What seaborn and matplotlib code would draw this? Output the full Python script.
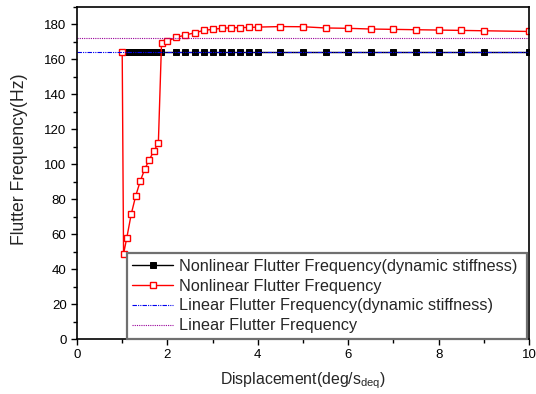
import matplotlib
matplotlib.use("Agg")
import matplotlib.pyplot as plt
import seaborn as sns
import numpy as np
from matplotlib.ticker import MultipleLocator

# ---- data ----
nl_dyn_x = [1.0, 1.05, 1.1, 1.15, 1.2, 1.25, 1.3, 1.35, 1.4, 1.45, 1.5, 1.55, 1.6,
            1.65, 1.7, 1.75, 1.8, 1.85, 2.2, 2.4, 2.6, 2.8, 3.0, 3.2, 3.4, 3.6, 3.8,
            4.0, 4.5, 5.0, 5.5, 6.0, 6.5, 7.0, 7.5, 8.0, 8.5, 9.0, 10.0]
nl_dyn_y = [164.5] * len(nl_dyn_x)

nl_x = [1.0, 1.03, 1.1, 1.2, 1.3, 1.4, 1.5, 1.6, 1.7, 1.8, 1.87, 2.0, 2.2, 2.4, 2.6,
        2.8, 3.0, 3.2, 3.4, 3.6, 3.8, 4.0, 4.5, 5.0, 5.5, 6.0, 6.5, 7.0, 7.5, 8.0,
        8.5, 9.0, 10.0]
nl_y = [164.5, 48.7, 57.7, 71.5, 82.0, 90.4, 97.3, 102.6, 107.6, 112.2, 169.5, 170.5,
        172.6, 174.0, 175.2, 176.6, 177.2, 177.8, 178.1, 178.2, 178.3, 178.5, 178.8,
        178.7, 178.0, 177.8, 177.4, 177.2, 177.0, 176.8, 176.6, 176.4, 176.0]

lin_x = [0.0, 10.0]
lin_dyn_y = [164.5, 164.5]
lin_y = [172.5, 172.5]

labels = ["Nonlinear Flutter Frequency(dynamic stiffness)",
          "Nonlinear Flutter Frequency",
          "Linear Flutter Frequency(dynamic stiffness)",
          "Linear Flutter Frequency"]

sns.set_style("ticks")
plt.rcParams['font.family'] = ['Liberation Sans', 'DejaVu Sans']
plt.rcParams['mathtext.fontset'] = 'custom'
plt.rcParams['mathtext.rm'] = 'Liberation Sans'
plt.rcParams['mathtext.it'] = 'Liberation Sans'

fig = plt.figure(figsize=(5.36, 3.94), dpi=100)
ax = fig.add_axes([77/536, 55/394, 452/536, 332/394])

sns.lineplot(x=nl_dyn_x, y=nl_dyn_y, ax=ax, color='black', lw=1.0, marker='s',
             markersize=5.0, markerfacecolor='black', markeredgecolor='black',
             markeredgewidth=0.7, label=labels[0], sort=False, estimator=None)
sns.lineplot(x=nl_x, y=nl_y, ax=ax, color='red', lw=1.0, marker='s',
             markersize=4.8, markerfacecolor='white', markeredgecolor='red',
             markeredgewidth=1.0, label=labels[1], sort=False, estimator=None)
sns.lineplot(x=lin_x, y=lin_dyn_y, ax=ax, color='#0000ee', lw=0.8,
             dashes=False, label=labels[2], estimator=None)
ax.lines[-1].set_linestyle((0, (4, 1, 1, 1, 1, 1)))
sns.lineplot(x=lin_x, y=lin_y, ax=ax, color='#990099', lw=0.8,
             label=labels[3], estimator=None)
ax.lines[-1].set_linestyle((0, (1, 1)))

ax.set_xlim(0, 10)
ax.set_ylim(0, 190)
ax.xaxis.set_major_locator(MultipleLocator(2))
ax.xaxis.set_minor_locator(MultipleLocator(1))
ax.yaxis.set_major_locator(MultipleLocator(20))
ax.yaxis.set_minor_locator(MultipleLocator(10))
ax.tick_params(which='both', direction='out', top=False, right=False,
               width=1.0, labelsize=9.5, colors='black')
ax.tick_params(which='major', length=4)
ax.tick_params(which='minor', length=3)
for s in ax.spines.values():
    s.set_visible(True)
    s.set_linewidth(1.2)
    s.set_color('black')

ax.set_xlabel(r"Displacement(deg/s$_\mathregular{deq}$)", fontsize=11.4)
ax.set_ylabel("Flutter Frequency(Hz)", fontsize=12.7)
ax.yaxis.set_label_coords(-0.108, 0.542)
ax.xaxis.set_label_coords(0.5, -0.095)

leg = ax.legend(loc='lower left', bbox_to_anchor=(0.11, 0.0, 0.886, 0.26),
                mode='expand', borderaxespad=0, fontsize=11.7, frameon=True,
                fancybox=False, handlelength=2.5, handletextpad=0.37,
                labelspacing=0.3, borderpad=0.35)
leg.get_frame().set_edgecolor('#707070')
leg.get_frame().set_linewidth(1.6)
leg.get_frame().set_alpha(1)

fig.savefig("out.png", dpi=100)
